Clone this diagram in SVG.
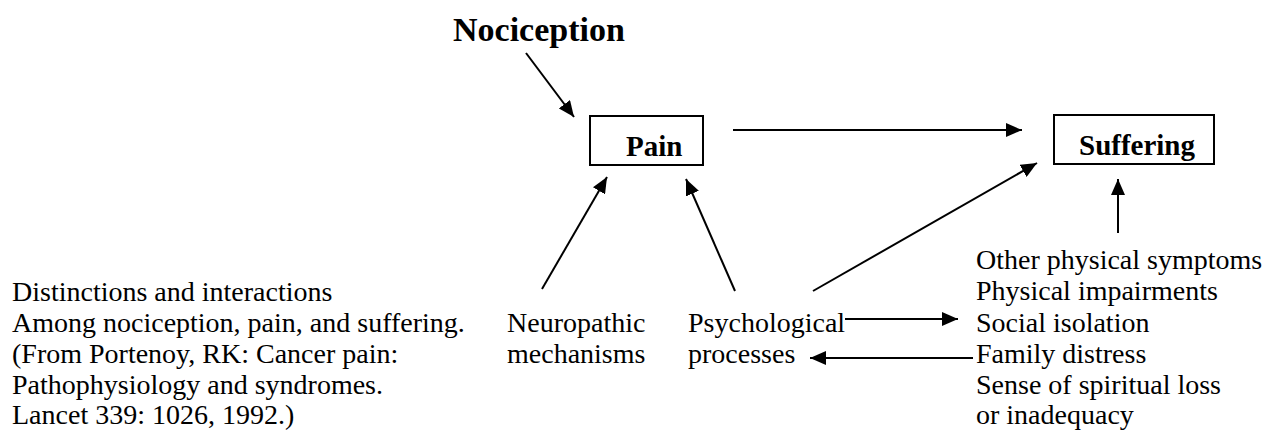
<svg xmlns="http://www.w3.org/2000/svg" width="1263" height="435" viewBox="0 0 1263 435" font-family="'Liberation Serif', 'DejaVu Serif', serif">
<style>
text{font-family:'Liberation Serif','DejaVu Serif',serif;fill:#000}
.b{font-weight:bold}
.t{font-size:28px}
.box{fill:none;stroke:#000;stroke-width:2}
.c line{stroke:#000;stroke-width:2;marker-end:url(#ah)}
</style>
<defs>
<marker id="ah" markerUnits="userSpaceOnUse" viewBox="0 0 16 14" refX="16" refY="7" markerWidth="16" markerHeight="14" orient="auto">
<path d="M0,0 L16,7 L0,14 z" fill="#000"/>
</marker>
</defs>
<rect width="1263" height="435" fill="#fff"/>
<g id="nociception"><text class="b" x="453" y="41" font-size="34">Nociception</text></g>
<g id="pain"><rect class="box" x="590" y="116" width="113" height="49"/><text class="b" x="626" y="156" font-size="29">Pain</text></g>
<g id="suffering"><rect class="box" x="1054" y="115" width="160" height="49"/><text class="b" x="1079" y="155" font-size="29">Suffering</text></g>
<g id="caption"><text class="t" x="12">
<tspan x="12" y="301">Distinctions and interactions</tspan>
<tspan x="12" y="332">Among nociception, pain, and suffering.</tspan>
<tspan x="12" y="363">(From Portenoy, RK: Cancer pain:</tspan>
<tspan x="12" y="394">Pathophysiology and syndromes.</tspan>
<tspan x="12" y="424">Lancet 339: 1026, 1992.)</tspan>
</text></g>
<g id="neuropathic"><text class="t"><tspan x="507" y="332">Neuropathic</tspan><tspan x="507" y="363">mechanisms</tspan></text></g>
<g id="psychological"><text class="t"><tspan x="688" y="332">Psychological</tspan><tspan x="688" y="363">processes</tspan></text></g>
<g id="factors"><text class="t">
<tspan x="976" y="269">Other physical symptoms</tspan>
<tspan x="976" y="300">Physical impairments</tspan>
<tspan x="976" y="332">Social isolation</tspan>
<tspan x="976" y="363">Family distress</tspan>
<tspan x="976" y="394">Sense of spiritual loss</tspan>
<tspan x="976" y="424">or inadequacy</tspan>
</text></g>
<g class="c" id="connectors">
<line x1="526" y1="53" x2="574" y2="117"/>
<line x1="733" y1="130" x2="1022" y2="130"/>
<line x1="542" y1="289" x2="607" y2="177"/>
<line x1="735" y1="291" x2="686" y2="179"/>
<line x1="813" y1="291" x2="1037" y2="163"/>
<line x1="1118" y1="233" x2="1118" y2="179"/>
<line x1="845" y1="319" x2="958" y2="319"/>
<line x1="973" y1="358" x2="810" y2="358"/>
</g>
</svg>
